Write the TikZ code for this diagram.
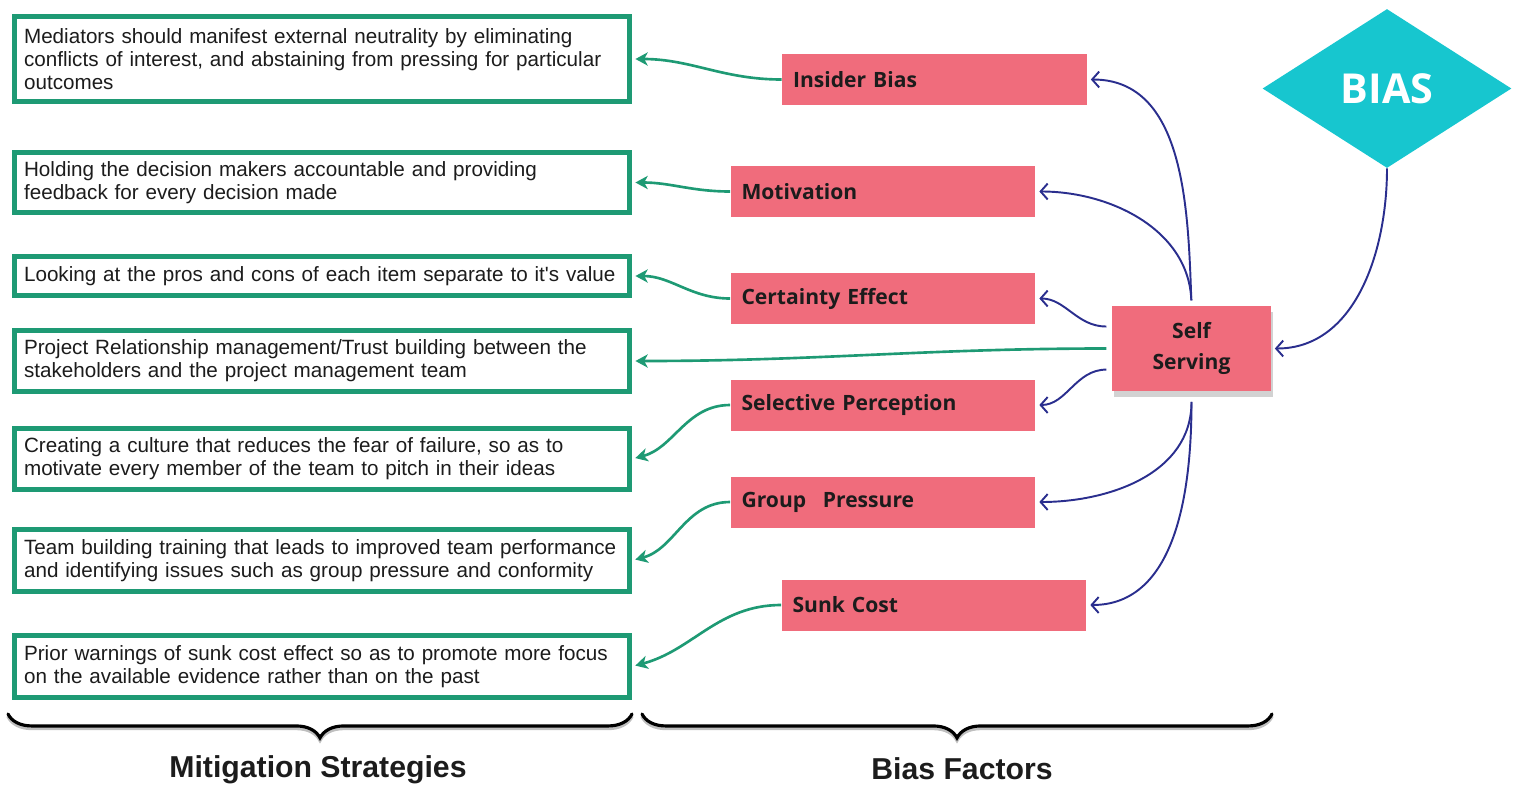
\documentclass[tikz,border=0pt]{standalone}
\usepackage{fontspec}
\setmainfont{Liberation Sans}
\newfontfamily\osans{Open Sans}
\usetikzlibrary{arrows.meta,shapes.geometric,decorations.pathreplacing,shadows}

\definecolor{boxgreen}{HTML}{1E9A74}
\definecolor{factorpink}{HTML}{F06C7C}
\definecolor{linkblue}{HTML}{2A2E8E}
\definecolor{biascyan}{HTML}{17C6CF}
\definecolor{inkdark}{HTML}{1C1C1C}

\tikzset{
  strategy/.style={draw=boxgreen, line width=2.8pt, fill=white,
    text width=11.92cm, align=left, inner xsep=0.19cm, inner ysep=0pt,
    text=inkdark, font=\fontsize{11.75}{13.1}\selectfont},
  factor/.style={fill=factorpink, minimum width=6.1cm, minimum height=1.02cm,
    text width=5.66cm, align=left, inner xsep=0.22cm, inner ysep=0pt,
    text=inkdark, font=\osans\bfseries\fontsize{12}{14}\selectfont},
  hub/.style={fill=factorpink, minimum width=3.18cm, minimum height=1.7cm,
    align=center, inner sep=0pt, text=inkdark,
    font=\osans\bfseries\fontsize{12}{18}\selectfont,
    drop shadow={shadow xshift=1pt, shadow yshift=-3.5pt, opacity=0.22, fill=black!80}},
  mitigate/.style={draw=boxgreen, line width=1.5pt,
    -{Stealth[length=7pt, width=7.5pt, inset=2pt]}, shorten >=2pt},
  feeds/.style={draw=linkblue, line width=1.1pt,
    -{Straight Barb[length=4pt, width=9pt]}, shorten >=2pt},
  bracket/.style={decorate, decoration={brace, mirror, amplitude=13.6pt},
    line width=1.8pt, line cap=round},
  caption/.style={anchor=base, text=inkdark,
    font=\bfseries\fontsize{17.2}{20}\selectfont}
}

\begin{document}
\begin{tikzpicture}[x=0.02cm, y=-0.02cm]
\useasboundingbox (0,0) rectangle (1518,785);

% mitigation strategies
\node[strategy, minimum height=1.7cm] (s1) at (322,59)
  {Mediators should manifest external neutrality by eliminating\\conflicts of interest, and abstaining from pressing for particular\\outcomes};
\node[strategy, minimum height=1.2cm] (s2) at (322,182.5)
  {Holding the decision makers accountable and providing\\feedback for every decision made};
\node[strategy, minimum height=0.78cm] (s3) at (322,276)
  {Looking at the pros and cons of each item separate to it\textquotesingle s value};
\node[strategy, minimum height=1.22cm] (s4) at (322,361)
  {Project Relationship management/Trust building between the\\stakeholders and the project management team};
\node[strategy, minimum height=1.22cm] (s5) at (322,459)
  {Creating a culture that reduces the fear of failure, so as to\\motivate every member of the team to pitch in their ideas};
\node[strategy, minimum height=1.24cm] (s6) at (322,560.5)
  {Team building training that leads to improved team performance\\and identifying issues such as group pressure and conformity};
\node[strategy, minimum height=1.24cm] (s7) at (322,666.5)
  {Prior warnings of sunk cost effect so as to promote more focus\\on the available evidence rather than on the past};

% bias factors
\node[factor] (f1) at (934.5,79.5) {Insider Bias};
\node[factor] (f2) at (883,191.5) {Motivation};
\node[factor] (f3) at (883,298.5) {Certainty Effect};
\node[factor] (f5) at (883,405) {Selective Perception};
\node[factor] (f6) at (883,502) {Group\hspace{9.5pt}Pressure};
\node[factor] (f7) at (934,605) {Sunk Cost};

\node[hub] (ss) at (1191.5,348.5) {Self\\Serving};

\node[diamond, fill=biascyan, minimum width=4.98cm, minimum height=3.18cm,
  inner sep=0pt, text=white, font=\osans\bfseries\fontsize{23.5}{26}\selectfont]
  (bias) at (1387,88.5) {BIAS};

% root to hub
\draw[feeds] (bias.south) to[out=-90, in=0] (ss.east);

% hub to factors
\draw[feeds, shorten <=3pt] (ss.north) to[out=92, in=0] (f1.east);
\draw[feeds, shorten <=3pt] (ss.north) to[out=92, in=0] (f2.east);
\draw[feeds] ([xshift=-3pt, yshift=12.5pt]ss.west) to[out=180, in=0] (f3.east);
\draw[feeds] ([xshift=-3pt, yshift=-12pt]ss.west) to[out=180, in=0] (f5.east);
\draw[feeds] ([yshift=-6pt]ss.south) to[out=-90, in=0] (f6.east);
\draw[feeds] ([yshift=-6pt]ss.south) to[out=-90, in=0] (f7.east);

% factors to strategies
\draw[mitigate] (f1.west) to[out=180, in=0] (s1.east);
\draw[mitigate] (f2.west) to[out=180, in=0] (s2.east);
\draw[mitigate] (f3.west) to[out=180, in=0] (s3.east);
\draw[mitigate, shorten <=3pt] (ss.west) to[out=180, in=0] (s4.east);
\draw[mitigate] (f5.west) to[out=180, in=15] (s5.east);
\draw[mitigate] (f6.west) to[out=180, in=15] (s6.east);
\draw[mitigate] (f7.west) to[out=180, in=15] (s7.east);

% group brackets
\coordinate (m0) at (8,714);   \coordinate (m1) at (632,714);
\coordinate (b0) at (642,714); \coordinate (b1) at (1272,714);
\draw[bracket, black!25, transform canvas={yshift=-1.5pt}] (m0) -- (m1);
\draw[bracket, black!25, transform canvas={yshift=-1.5pt}] (b0) -- (b1);
\draw[bracket] (m0) -- (m1);
\draw[bracket] (b0) -- (b1);

\node[caption] (cm) at (318,777) {Mitigation Strategies};
\node[caption] (cb) at (962,779) {Bias Factors};
\end{tikzpicture}
\end{document}
